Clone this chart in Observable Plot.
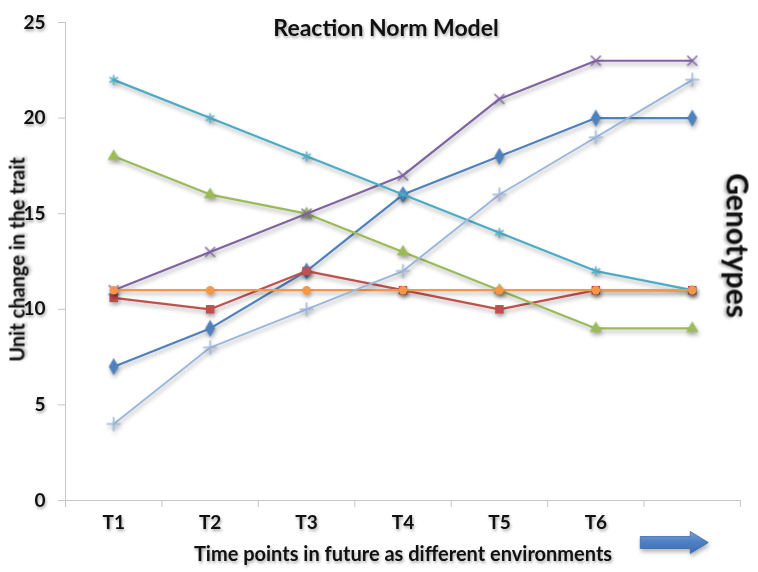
<!DOCTYPE html>
<html>
<head>
<meta charset="utf-8">
<script src="https://cdn.jsdelivr.net/npm/d3@7"></script>
<script src="https://cdn.jsdelivr.net/npm/@observablehq/plot@0.6"></script>
<style>
  body { margin: 0; background: #fff; }
  #chart svg { font-family: Lato, "Open Sans", sans-serif; font-weight: 700; overflow: visible; }
  #chart svg g[aria-label^="x-axis"] :is(line, path),
  #chart svg g[aria-label^="y-axis"] :is(line, path) { stroke: #c6c6c6; }
  #chart svg text { filter: drop-shadow(1.5px 2px 1.5px rgba(0,0,0,0.35)); }
  #chart svg g[aria-label="line"],
  #chart svg g[aria-label="dot"] { filter: drop-shadow(1px 3px 2px rgba(0,0,0,0.3)); }
</style>
</head>
<body>
<div id="chart"></div>
<script>
// Time points (environments); the last slot is the "future" arrow
const timeLabels = ["T1", "T2", "T3", "T4", "T5", "T6"];
const futureSlot = 7;

// Trait value of each genotype at each time point
const genotypeDiamond  = [7, 9, 12, 16, 18, 20, 20];
const genotypeSquare   = [10.6, 10, 12, 11, 10, 11, 11];
const genotypeTriangle = [18, 16, 15, 13, 11, 9, 9];
const genotypeCross    = [11, 13, 15, 17, 21, 23, 23];
const genotypeStar     = [22, 20, 18, 16, 14, 12, 11];
const genotypeCircle   = [11, 11, 11, 11, 11, 11, 11];
const genotypePlus     = [4, 8, 10, 12, 16, 19, 22];

const yTicks = [0, 5, 10, 15, 20, 25];

const title = "Reaction Norm Model";
const xTitle = "Time points in future as different environments";
const yTitle = "Unit change in the trait";
const sideTitle = "Genotypes";

// Series drawing order and appearance
const series = [
  {name: "diamond",  values: genotypeDiamond,  color: "#4F81BD", symbol: "diamond",  filled: true,  r: 5.2, width: 2.2},
  {name: "square",   values: genotypeSquare,   color: "#C0504D", symbol: "square",   filled: true,  r: 4.8, width: 2.2},
  {name: "triangle", values: genotypeTriangle, color: "#9BBB59", symbol: "triangle", filled: true,  r: 4.6, width: 2.2},
  {name: "cross",    values: genotypeCross,    color: "#8064A2", symbol: "times",    filled: false, r: 4.6, width: 2.2},
  {name: "star",     values: genotypeStar,     color: "#4BACC6", symbol: "asterisk", filled: false, r: 4.6, width: 2.2},
  {name: "circle",   values: genotypeCircle,   color: "#F79646", symbol: "circle",   filled: true,  r: 4.2, width: 2.2},
  {name: "plus",     values: genotypePlus,     color: "#9AB6DC", symbol: "plus",     filled: false, r: 4.6, width: 1.8}
];

// Block arrow glyph used as the label of the future slot
const blockArrow = {
  draw(context) {
    context.moveTo(-34, -6);
    context.lineTo(16, -6);
    context.lineTo(16, -11);
    context.lineTo(34, 0);
    context.lineTo(16, 11);
    context.lineTo(16, 6);
    context.lineTo(-34, 6);
    context.closePath();
  }
};

const marks = [
  Plot.ruleY([0], {stroke: "#c6c6c6"}),
  Plot.ruleX([0.5], {stroke: "#c6c6c6"})
];

for (const s of series) {
  const rows = s.values.map((v, i) => ({t: i + 1, value: v}));
  marks.push(Plot.line(rows, {x: "t", y: "value", stroke: s.color, strokeWidth: s.width}));
  marks.push(Plot.dot(rows, s.filled
    ? {x: "t", y: "value", symbol: s.symbol, r: s.r, fill: s.color, stroke: "none"}
    : {x: "t", y: "value", symbol: s.symbol, r: s.r, stroke: s.color, strokeWidth: 1.5, fill: "none"}));
}

marks.push(
  Plot.text(timeLabels, {x: (d, i) => i + 1, text: d => d, frameAnchor: "bottom", lineAnchor: "middle", dy: 22, fontSize: 19, fontWeight: 700, fill: "#111"}),
  Plot.dot([futureSlot], {x: d => d, frameAnchor: "bottom", dx: -18, dy: 42, symbol: blockArrow, r: 10, fill: "url(#arrowFill)", stroke: "#3A6AA8", strokeWidth: 0.8}),
  Plot.text([title], {frameAnchor: "top", textAnchor: "middle", lineAnchor: "middle", dx: -17, dy: 6, fontSize: 23, fontWeight: 700, fill: "#111"}),
  Plot.text([xTitle], {frameAnchor: "bottom", textAnchor: "middle", lineAnchor: "middle", dx: 0, dy: 54, fontSize: 20, fontWeight: 700, fill: "#111"}),
  Plot.text([yTitle], {frameAnchor: "left", textAnchor: "middle", lineAnchor: "middle", dx: -47, dy: -2, rotate: -90, fontSize: 20, fontWeight: 700, fill: "#111"}),
  Plot.text([sideTitle], {frameAnchor: "right", textAnchor: "middle", lineAnchor: "middle", dx: -4, dy: -16, rotate: 90, fontSize: 30, fontWeight: 700, fill: "#111"})
);

const chart = Plot.plot({
  width: 758,
  height: 572,
  marginTop: 22,
  marginLeft: 65,
  marginRight: 18,
  marginBottom: 72,
  style: {fontFamily: "Lato, 'Open Sans', sans-serif", fontSize: "19px", fontWeight: 700, color: "#111", background: "#fff"},
  x: {domain: [0.5, 7.5], ticks: d3.range(0.5, 8, 1), tickFormat: () => "", tickSize: 7, label: null},
  y: {domain: [0, 25], ticks: yTicks, tickSize: 7, tickPadding: 13, label: null},
  marks
});

// Gradient for the arrow
const defs = d3.select(chart).insert("defs", ":first-child");
const grad = defs.append("linearGradient").attr("id", "arrowFill").attr("x1", 0).attr("y1", 0).attr("x2", 0).attr("y2", 1);
grad.append("stop").attr("offset", "0%").attr("stop-color", "#7BA3DA");
grad.append("stop").attr("offset", "45%").attr("stop-color", "#4F81C4");
grad.append("stop").attr("offset", "100%").attr("stop-color", "#3B6CB0");

document.getElementById("chart").append(chart);
</script>
</body>
</html>
